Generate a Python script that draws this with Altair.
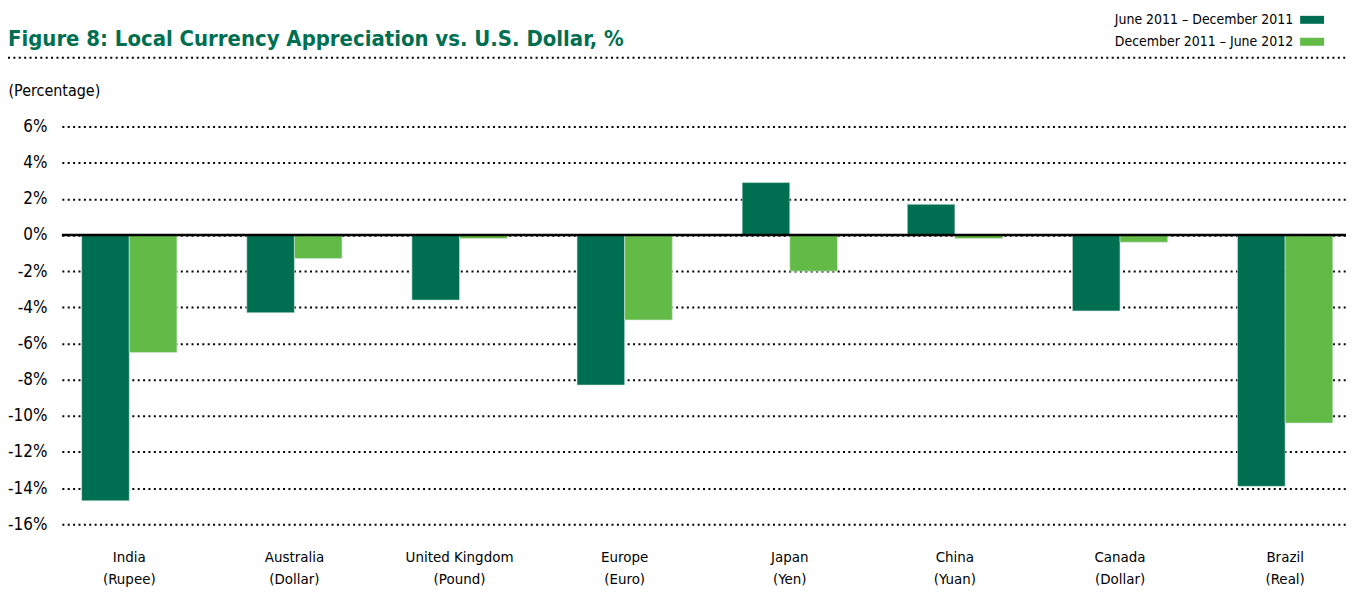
import altair as alt
import pandas as pd

# ---- data ----
title_text = "Figure 8: Local Currency Appreciation vs. U.S. Dollar, %"
countries = ["India", "Australia", "United Kingdom", "Europe", "Japan", "China", "Canada", "Brazil"]
currencies = ["(Rupee)", "(Dollar)", "(Pound)", "(Euro)", "(Yen)", "(Yuan)", "(Dollar)", "(Real)"]
series = ["June 2011 – December 2011", "December 2011 – June 2012"]
jun_dec_2011 = [-14.7, -4.3, -3.6, -8.3, 2.9, 1.7, -4.2, -13.9]
dec_jun_2012 = [-6.5, -1.3, -0.2, -4.7, -2.0, -0.2, -0.4, -10.4]
y_ticks = [6, 4, 2, 0, -2, -4, -6, -8, -10, -12, -14, -16]

labels = [f"{c}|{k}" for c, k in zip(countries, currencies)]
rows = []
for lab, a, b in zip(labels, jun_dec_2011, dec_jun_2012):
    rows.append({"category": lab, "period": series[0], "value": a})
    rows.append({"category": lab, "period": series[1], "value": b})
df = pd.DataFrame(rows)

FONT = "DejaVu Sans Condensed, Roboto, sans-serif"
DARK = "#006f51"
LIGHT = "#62bb46"
W, H = 1288, 399
LEFT = 54

x_enc = alt.X(
    "category:N",
    sort=labels,
    scale=alt.Scale(paddingInner=0.423, paddingOuter=0.1, align=0.6),
    axis=alt.Axis(
        title=None, labelExpr="split(datum.label, '|')", labelAngle=0,
        labelFont=FONT, labelFontSize=15, labelColor="black", labelLineHeight=22,
        labelPadding=25, ticks=False, domain=False, grid=False, labelLimit=300,
    ),
)
y_axis = alt.Axis(
    values=y_ticks, labelExpr="datum.value + '%'", labelOverlap=False,
    labelFont=FONT, labelFontSize=17, labelColor="black", labelPadding=15,
    ticks=False, domain=False,
    grid=True, gridColor="black", gridDash=[2, 3.4], gridWidth=2, gridOpacity=1,
    title="(Percentage)", titleAngle=0, titleAlign="left", titleBaseline="middle",
    titleX=-LEFT, titleY=-36, titleFont=FONT, titleFontSize=16, titleFontWeight="normal",
    titleColor="black",
)
y_scale = alt.Scale(domain=[-16, 6], nice=False, zero=False)

bars = alt.Chart(df).mark_bar(stroke="#d6e8df", strokeWidth=0.6).encode(
    x=x_enc,
    xOffset=alt.XOffset("period:N", sort=series),
    y=alt.Y("value:Q", scale=y_scale, axis=y_axis),
    color=alt.Color(
        "period:N", sort=series,
        scale=alt.Scale(domain=series, range=[DARK, LIGHT]),
        legend=alt.Legend(
            title=None, orient="none", legendX=1242, legendY=-119,
            symbolType="M-1,-0.333H1V0.333H-1Z", symbolSize=576, symbolStrokeWidth=0,
            labelAlign="right", labelOffset={"expr": "-31"}, labelFont=FONT, labelFontSize=14,
            labelColor="black", labelLimit=400, rowPadding=3, padding=0,
        ),
    ),
)

zero = alt.Chart(pd.DataFrame({"value": [0]})).mark_rule(color="black", strokeWidth=2.5).encode(
    y=alt.Y("value:Q", scale=y_scale, axis=y_axis)
)

title_rule = alt.Chart(pd.DataFrame({"value": [0]})).mark_rule(
    color="black", strokeWidth=2, strokeDash=[2, 3.4]
).encode(x=alt.value(-LEFT), x2=alt.value(W + 4), y=alt.value(-69))

title_mark = alt.Chart(pd.DataFrame({"t": [title_text]})).mark_text(
    align="left", baseline="alphabetic", font=FONT, fontSize=22, fontWeight="bold", color=DARK
).encode(x=alt.value(-LEFT), y=alt.value(-81), text="t:N")

chart = alt.layer(bars, zero, title_rule, title_mark).properties(
    width=W, height=H,
    autosize=alt.AutoSizeParams(type="none"),
    padding={"left": LEFT, "top": 118, "right": 0, "bottom": 62},
    background="white",
).configure_view(stroke=None)

chart.save("out.html", embed_options={"renderer": "svg", "actions": False})
